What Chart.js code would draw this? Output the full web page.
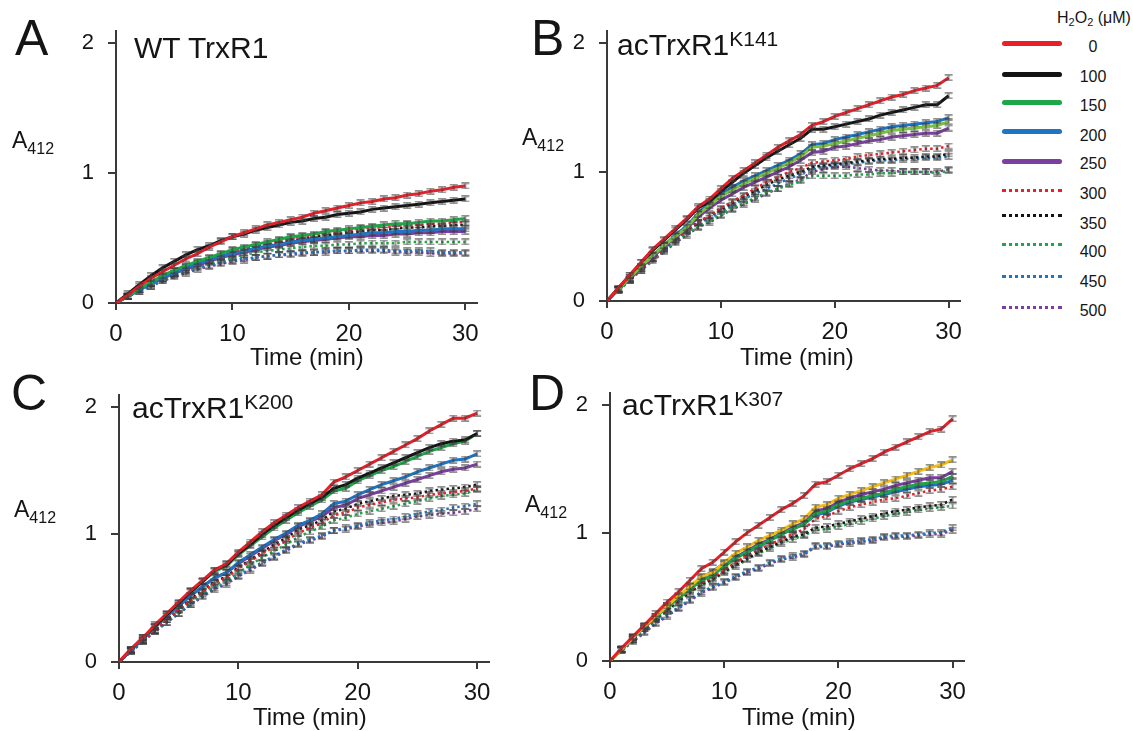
<!DOCTYPE html>
<html><head><meta charset="utf-8">
<script src="https://cdn.jsdelivr.net/npm/chart.js@4.4.0/dist/chart.umd.min.js"></script>
<style>
html,body{margin:0;padding:0;background:#fff;}
body{width:1133px;height:731px;position:relative;overflow:hidden;font-family:"Liberation Sans",Arial,sans-serif;color:#151515;}
.t{position:absolute;white-space:nowrap;line-height:1;}
.sup{position:relative;}
.sub{position:relative;}
</style>
</head><body>
<script>
// ---------------- DATA ----------------
const times = [0,1,2,3,4,5,6,7,8,9,10,11,12,13,14,15,16,17,18,19,20,21,22,23,24,25,26,27,28,29,30];
const concentrations = ['0','100','150','200','250','300','350','400','450','500']; // H2O2 (µM)
const yTicks = [0,1,2];
const xTicks = [0,10,20,30];

// Panel A: WT TrxR1
const A_0   = [0,.06,.13,.19,.24,.29,.34,.38,.43,.47,.51,.54,.57,.60,.62,.64,.66,.69,.71,.73,.75,.77,.78,.80,.81,.83,.84,.86,.87,.89,.90];
const A_100 = [0,.07,.14,.21,.27,.32,.37,.41,.44,.48,.51,.53,.56,.58,.60,.62,.63,.65,.66,.68,.69,.70,.72,.73,.74,.75,.76,.77,.78,.79,.80];
const A_150 = [0,.05,.11,.16,.21,.25,.29,.32,.35,.38,.41,.43,.45,.47,.49,.51,.52,.53,.55,.56,.57,.58,.59,.60,.61,.61,.62,.63,.63,.64,.65];
const A_200 = [0,.05,.10,.15,.19,.23,.27,.30,.33,.36,.38,.40,.42,.44,.45,.47,.48,.49,.50,.51,.52,.53,.54,.54,.55,.55,.56,.56,.57,.57,.57];
const A_250 = [0,.05,.10,.15,.19,.23,.26,.29,.32,.35,.37,.39,.41,.43,.44,.46,.47,.48,.49,.50,.51,.51,.52,.52,.53,.53,.54,.54,.55,.55,.55];
const A_300 = [0,.05,.10,.15,.20,.24,.28,.31,.34,.37,.40,.42,.44,.46,.48,.50,.51,.52,.54,.55,.56,.57,.58,.58,.59,.60,.60,.61,.61,.62,.62];
const A_350 = [0,.05,.10,.15,.19,.23,.27,.30,.33,.36,.38,.41,.43,.45,.46,.48,.49,.51,.52,.53,.54,.55,.56,.56,.57,.58,.58,.59,.59,.60,.60];
const A_400 = [0,.05,.10,.14,.18,.22,.25,.28,.31,.33,.35,.37,.39,.40,.41,.42,.43,.44,.44,.45,.45,.46,.46,.46,.46,.47,.47,.47,.47,.47,.47];
const A_450 = [0,.05,.09,.13,.17,.21,.24,.27,.29,.31,.33,.34,.35,.36,.37,.38,.39,.39,.40,.40,.40,.41,.41,.41,.40,.40,.40,.40,.39,.39,.39];
const A_500 = [0,.05,.09,.13,.17,.20,.23,.26,.28,.30,.32,.33,.35,.36,.37,.37,.38,.39,.39,.40,.40,.40,.40,.40,.39,.39,.39,.38,.38,.38,.38];

// Panel B: acTrxR1 K141
const B_0   = [0,.10,.20,.30,.40,.48,.56,.64,.73,.79,.87,.95,1.01,1.07,1.13,1.19,1.24,1.29,1.36,1.39,1.43,1.46,1.49,1.52,1.55,1.58,1.60,1.63,1.65,1.67,1.73];
const B_100 = [0,.10,.20,.30,.39,.47,.55,.63,.72,.77,.85,.92,.99,1.05,1.11,1.16,1.21,1.26,1.33,1.33,1.35,1.37,1.39,1.41,1.44,1.46,1.48,1.50,1.52,1.52,1.59];
const B_150 = [0,.09,.18,.27,.35,.43,.50,.57,.67,.74,.81,.86,.91,.95,.99,1.03,1.07,1.12,1.19,1.20,1.22,1.24,1.26,1.28,1.30,1.32,1.33,1.34,1.35,1.36,1.39];
const B_200 = [0,.09,.18,.27,.35,.43,.51,.58,.68,.76,.83,.88,.93,.97,1.01,1.05,1.09,1.14,1.21,1.22,1.25,1.27,1.29,1.31,1.33,1.35,1.36,1.37,1.38,1.39,1.42];
const B_250 = [0,.09,.17,.26,.34,.42,.49,.56,.65,.72,.78,.83,.88,.92,.96,1.00,1.04,1.09,1.15,1.16,1.19,1.20,1.22,1.24,1.25,1.27,1.28,1.29,1.30,1.30,1.34];
const B_300 = [0,.09,.17,.25,.33,.41,.48,.55,.61,.66,.72,.77,.82,.87,.92,.96,1.00,1.03,1.07,1.08,1.09,1.10,1.12,1.13,1.14,1.15,1.16,1.17,1.18,1.18,1.20];
const B_350 = [0,.09,.17,.25,.33,.41,.48,.55,.61,.66,.71,.76,.81,.85,.90,.94,.97,1.00,1.04,1.05,1.06,1.07,1.08,1.09,1.10,1.10,1.11,1.11,1.12,1.12,1.14];
const B_400 = [0,.08,.16,.24,.32,.39,.46,.52,.58,.62,.67,.72,.76,.80,.84,.87,.90,.93,.97,.97,.97,.97,.98,.98,.99,.99,1.00,1.00,1.00,.99,1.01];
const B_450 = [0,.09,.17,.25,.33,.40,.47,.54,.60,.64,.69,.74,.79,.83,.87,.91,.95,.98,1.03,1.04,1.05,1.06,1.07,1.08,1.09,1.09,1.10,1.10,1.11,1.11,1.12];
const B_500 = [0,.08,.16,.24,.31,.38,.45,.51,.57,.61,.66,.71,.75,.79,.83,.87,.91,.94,1.00,1.02,1.04,1.04,1.03,1.02,1.01,1.01,1.00,1.00,1.00,1.00,1.02];

// Panel C: acTrxR1 K200
const C_0   = [0,.10,.19,.29,.38,.47,.56,.64,.72,.77,.86,.94,1.02,1.09,1.15,1.21,1.26,1.31,1.41,1.45,1.50,1.55,1.60,1.65,1.70,1.75,1.81,1.86,1.91,1.91,1.95];
const C_100 = [0,.10,.19,.28,.37,.46,.55,.63,.72,.76,.85,.92,1.00,1.07,1.13,1.19,1.24,1.29,1.36,1.39,1.44,1.48,1.52,1.56,1.60,1.64,1.68,1.71,1.73,1.74,1.79];
const C_150 = [0,.10,.19,.28,.37,.46,.55,.63,.71,.75,.84,.91,.98,1.05,1.11,1.17,1.22,1.27,1.34,1.36,1.42,1.46,1.50,1.53,1.57,1.61,1.65,1.68,1.71,1.73,1.79];
const C_200 = [0,.09,.18,.27,.36,.44,.52,.59,.66,.70,.78,.84,.90,.96,1.01,1.07,1.11,1.16,1.24,1.26,1.31,1.35,1.39,1.42,1.45,1.49,1.52,1.55,1.58,1.59,1.63];
const C_250 = [0,.09,.18,.27,.36,.44,.52,.59,.66,.70,.77,.83,.89,.95,1.00,1.06,1.10,1.14,1.21,1.23,1.28,1.31,1.34,1.37,1.40,1.43,1.46,1.49,1.51,1.52,1.55];
const C_300 = [0,.09,.17,.25,.33,.41,.48,.55,.62,.66,.73,.79,.85,.90,.95,1.01,1.05,1.09,1.15,1.17,1.21,1.23,1.25,1.27,1.28,1.29,1.31,1.32,1.33,1.34,1.36];
const C_350 = [0,.09,.17,.25,.33,.41,.49,.56,.63,.67,.74,.80,.86,.92,.97,1.04,1.07,1.11,1.18,1.20,1.24,1.26,1.28,1.30,1.31,1.32,1.34,1.35,1.36,1.37,1.39];
const C_400 = [0,.09,.17,.25,.33,.40,.47,.54,.60,.64,.70,.76,.82,.87,.92,.98,1.02,1.06,1.11,1.13,1.16,1.18,1.20,1.22,1.24,1.26,1.28,1.30,1.31,1.32,1.35];
const C_450 = [0,.08,.16,.24,.31,.38,.45,.52,.58,.62,.68,.73,.78,.83,.88,.93,.96,.99,1.03,1.05,1.07,1.09,1.11,1.12,1.14,1.16,1.18,1.19,1.21,1.22,1.24];
const C_500 = [0,.08,.16,.24,.31,.38,.45,.51,.57,.61,.67,.72,.77,.82,.87,.92,.95,.98,1.03,1.04,1.06,1.08,1.09,1.10,1.12,1.14,1.15,1.16,1.17,1.18,1.20];

// Panel D: acTrxR1 K307
const D_0   = [0,.10,.19,.28,.37,.46,.54,.63,.72,.77,.85,.93,1.00,1.06,1.12,1.18,1.23,1.29,1.38,1.40,1.45,1.50,1.54,1.58,1.63,1.67,1.71,1.75,1.79,1.81,1.89];
const D_100 = [0,.09,.18,.27,.35,.43,.51,.58,.66,.69,.77,.84,.89,.94,.98,1.02,1.07,1.11,1.20,1.22,1.27,1.30,1.33,1.36,1.39,1.42,1.45,1.48,1.51,1.53,1.57];
const D_150 = [0,.09,.18,.26,.34,.42,.49,.56,.63,.67,.74,.80,.85,.90,.94,.99,1.03,1.07,1.15,1.17,1.22,1.25,1.27,1.29,1.31,1.34,1.36,1.38,1.39,1.40,1.44];
const D_200 = [0,.09,.18,.27,.35,.43,.50,.57,.65,.70,.76,.81,.85,.89,.94,.99,1.03,1.07,1.14,1.16,1.21,1.24,1.26,1.28,1.30,1.32,1.34,1.36,1.37,1.38,1.41];
const D_250 = [0,.09,.18,.27,.35,.43,.50,.57,.64,.68,.75,.81,.86,.91,.95,1.00,1.04,1.08,1.17,1.19,1.24,1.27,1.30,1.32,1.34,1.37,1.39,1.41,1.43,1.43,1.48];
const D_300 = [0,.09,.17,.25,.33,.41,.48,.55,.61,.65,.71,.77,.82,.87,.91,.95,.99,1.03,1.11,1.13,1.17,1.20,1.22,1.24,1.26,1.27,1.29,1.31,1.33,1.34,1.36];
const D_350 = [0,.09,.17,.25,.33,.40,.47,.54,.60,.64,.70,.75,.80,.85,.89,.93,.97,.99,1.04,1.05,1.07,1.09,1.11,1.13,1.15,1.17,1.18,1.20,1.21,1.22,1.26];
const D_400 = [0,.09,.17,.25,.32,.39,.46,.53,.59,.63,.69,.74,.79,.84,.88,.92,.95,.98,1.02,1.03,1.05,1.07,1.09,1.11,1.13,1.15,1.16,1.18,1.19,1.20,1.21];
const D_450 = [0,.08,.16,.23,.30,.36,.42,.48,.54,.58,.62,.66,.70,.73,.77,.80,.82,.84,.90,.90,.92,.93,.94,.95,.97,.98,.98,.99,1.00,1.00,1.04];
const D_500 = [0,.08,.15,.22,.29,.35,.41,.47,.53,.57,.61,.65,.69,.72,.76,.79,.81,.83,.89,.89,.91,.92,.93,.94,.96,.97,.97,.98,.99,.99,1.02];

// ---------------- STYLE / LAYOUT ----------------
const FONT = '"Liberation Sans", Arial, sans-serif';
const baseColors = ['#e8202a','#141414','#1fa64a','#1f75c2','#7b3f9e','#e8202a','#141414','#1fa64a','#1f75c2','#7b3f9e'];
const solidFlags = [true,true,true,true,true,false,false,false,false,false];

const panels = [
  {series:[A_0,A_100,A_150,A_200,A_250,A_300,A_350,A_400,A_450,A_500], colors:baseColors,
   L:116,R:477,T:20,B:303},
  {series:[B_0,B_100,B_150,B_200,B_250,B_300,B_350,B_400,B_450,B_500],
   colors:baseColors.map((c,i)=>i===2?'#79c143':c), L:607,R:960,T:20,B:301},
  {series:[C_0,C_100,C_150,C_200,C_250,C_300,C_350,C_400,C_450,C_500], colors:baseColors,
   L:119,R:489,T:384,B:662},
  {series:[D_0,D_100,D_150,D_200,D_250,D_300,D_350,D_400,D_450,D_500],
   colors:baseColors.map((c,i)=>i===1?'#f2bd1b':c), L:610,R:964,T:382,B:661}
];

// small error-bar glyph used as point style
function errGlyph(){
  const c=document.createElement('canvas'); c.width=10; c.height=7;
  const g=c.getContext('2d');
  g.strokeStyle='rgba(60,60,60,0.75)'; g.lineWidth=1.3;
  g.beginPath();
  g.moveTo(1,0.8); g.lineTo(9,0.8);
  g.moveTo(1,6.2); g.lineTo(9,6.2);
  g.moveTo(5,0.8); g.lineTo(5,6.2);
  g.stroke();
  return c;
}
const glyph = errGlyph();

Chart.defaults.font.family = FONT;
Chart.defaults.color = '#151515';

const axisColor = '#3a3a3a';
function makePanel(p){
  const cv=document.createElement('canvas');
  const w=p.R-p.L+90, h=p.B-p.T+61;
  cv.width=w; cv.height=h;
  cv.style.cssText='position:absolute;left:'+(p.L-70)+'px;top:'+(p.T-16)+'px;width:'+w+'px;height:'+h+'px;';
  document.body.appendChild(cv);
  const datasets=p.series.map((vals,i)=>({
    label: concentrations[i],
    data: times.map((t,k)=>({x:t,y:vals[k]})),
    borderColor: p.colors[i],
    backgroundColor: p.colors[i],
    borderWidth: solidFlags[i]?3:2.5,
    borderDash: solidFlags[i]?[]:[2.5,3],
    borderCapStyle:'butt',
    tension:0,
    fill:false,
    pointStyle: glyph,
    pointRadius: 4,
    pointHoverRadius: 4
  }));
  new Chart(cv,{
    type:'line',
    data:{datasets},
    options:{
      responsive:false, animation:false, events:[],
      layout:{padding:{left:0,top:16,right:20,bottom:0}},
      plugins:{legend:{display:false},tooltip:{enabled:false},title:{display:false}},
      scales:{
        x:{type:'linear',min:0,max:31,
           ticks:{stepSize:10,includeBounds:false,padding:10,font:{size:24},color:'#151515',maxRotation:0,autoSkip:false},
           afterBuildTicks:s=>{s.ticks=xTicks.map(v=>({value:v}));},
           grid:{drawOnChartArea:false,drawTicks:true,tickLength:7,color:axisColor,lineWidth:2},
           border:{display:true,color:axisColor,width:2},
           afterFit:s=>{s.height=45;}},
        y:{type:'linear',min:0,max:2.09,
           ticks:{stepSize:1,includeBounds:false,padding:14,font:{size:22},color:'#151515'},
           afterBuildTicks:s=>{s.ticks=yTicks.map(v=>({value:v}));},
           grid:{drawOnChartArea:false,drawTicks:true,tickLength:8,color:axisColor,lineWidth:2},
           border:{display:true,color:axisColor,width:2},
           afterFit:s=>{s.width=70;}}
      }
    }
  });
}
panels.forEach(makePanel);

// ---------------- TEXT OVERLAYS ----------------
function txt(html,x,baseline,size,extra){
  const d=document.createElement('div');
  d.className='t';
  d.style.left=x+'px';
  d.style.top=(baseline-0.8465*size)+'px';
  d.style.fontSize=size+'px';
  if(extra) d.style.cssText+=extra;
  d.innerHTML=html;
  document.body.appendChild(d);
  return d;
}
const supK = s => '<span class="sup" style="font-size:21px;top:-9px;">'+s+'</span>';
const a412 = 'A<span class="sub" style="font-size:16px;top:6px;">412</span>';

// panel letters
txt('A',15,55,50); txt('B',531,55,50); txt('C',11,410,50); txt('D',529,410,50);
// panel titles
txt('WT TrxR1',134,58,30);
txt('acTrxR1'+supK('K141'),617,55,30);
txt('acTrxR1'+supK('K200'),132,418,30);
txt('acTrxR1'+supK('K307'),622,415,30);
// y-axis labels
txt(a412,12,148,23); txt(a412,522,145,23); txt(a412,14,517,23); txt(a412,525,512,23);
// x-axis titles
txt('Time (min)',250,365,24); txt('Time (min)',740,365,24);
txt('Time (min)',253,725,24); txt('Time (min)',742,725,24);

// ---------------- LEGEND ----------------
txt('H<span class="sub" style="font-size:11px;top:3px;">2</span>O<span class="sub" style="font-size:11px;top:3px;">2</span> (μM)',1057,24,16);
const legendLineY = [43,74,102,131,161,190,215,244,276,307];
const legendTextBase = [53,83,112,142,170,200,230,258,288,317];
concentrations.forEach((c,i)=>{
  const ln=document.createElement('div');
  if(solidFlags[i]){
    ln.style.cssText='position:absolute;left:1002px;width:60px;height:5px;border-radius:2.5px;top:'+(legendLineY[i]-2.5)+'px;background:'+baseColors[i]+';';
  } else {
    ln.style.cssText='position:absolute;left:1002px;width:60px;height:0;top:'+(legendLineY[i]-1.5)+'px;border-top:3px dotted '+baseColors[i]+';';
  }
  document.body.appendChild(ln);
  txt(c,1063,legendTextBase[i],16,'width:60px;text-align:center;');
});
</script>
</body></html>
